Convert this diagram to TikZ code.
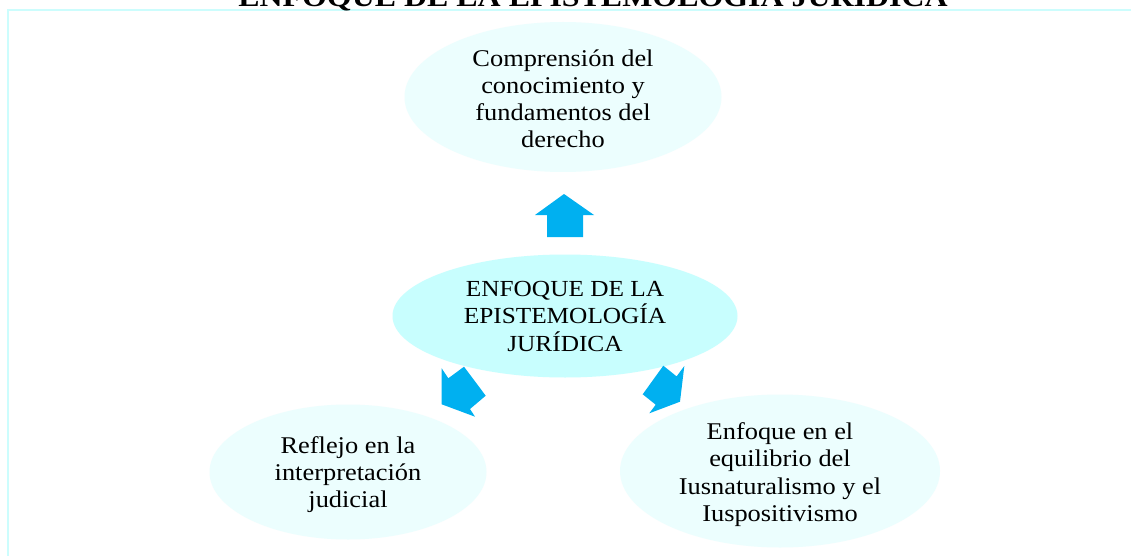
\documentclass[tikz,border=0pt]{standalone}
\usepackage{fontspec}
\setmainfont{Liberation Serif}
\usetikzlibrary{shapes.geometric}
\definecolor{bubcenter}{HTML}{C8FEFE}
\definecolor{bubouter}{HTML}{ECFEFE}
\definecolor{framecol}{HTML}{CCFDFD}
\definecolor{arrowcol}{HTML}{00B0F0}
\newcommand\wtext[1]{\scalebox{1.1}[1]{\begin{tabular}{@{}c@{}}#1\end{tabular}}}
\tikzset{
  bub/.style={ellipse, inner sep=0pt, fill=bubouter, draw=none},
  bubc/.style={bub, fill=bubcenter},
  txt/.style={inner sep=0pt, font=\fontsize{24}{27.3}\selectfont},
  txtc/.style={inner sep=0pt, font=\fontsize{23}{27}\selectfont},
  blockarrow/.style={fill=arrowcol, draw=none},
  framestyle/.style={draw=framecol, line width=2pt}
}
\begin{document}
\begin{tikzpicture}[x=1pt, y=-1pt]
\useasboundingbox (0,0) rectangle (1131,556);
\clip (0,0) rectangle (1131,556);
\fill[white] (0,0) rectangle (1131,556);
% frame
\coordinate (fa) at (8,556);
\coordinate (fb) at (8,10);
\coordinate (fc) at (1131,10);
\draw[framestyle] (fa) -- (fb) -- (fc);
% title (cut off at top)
\node[anchor=base, inner sep=0pt] (title) at (593,7)
  {\scalebox{1.14}[1]{\fontsize{28}{30}\selectfont\bfseries ENFOQUE DE LA EPISTEMOLOGÍA JURÍDICA}};
% ellipses
\node[bub, minimum width=317pt, minimum height=150pt] (top) at (563,97) {};
\node[bubc, minimum width=345pt, minimum height=123pt] (center) at (565,316) {};
\node[bub, minimum width=277pt, minimum height=135pt] (left) at (348,472) {};
\node[bub, minimum width=320pt, minimum height=153pt] (right) at (780,471) {};
% texts
\node[txt] (topt) at ([yshift=-4.5pt]top.center) {\wtext{Comprensión del\\conocimiento y\\fundamentos del\\derecho}};
\node[txtc] (centert) at ([yshift=-2.5pt]center.center) {\wtext{ENFOQUE DE LA\\EPISTEMOLOGÍA\\JURÍDICA}};
\node[txt] (leftt) at ([yshift=-3pt]left.center) {\wtext{Reflejo en la\\interpretación\\judicial}};
\node[txt] (rightt) at ([yshift=-4pt]right.center) {\wtext{Enfoque en el\\equilibrio del\\Iusnaturalismo y el\\Iuspositivismo}};
% block arrows
\fill[blockarrow] (564,194) -- (594,215) -- (583,215) -- (583,237) -- (547,237) -- (547,215) -- (535,215) -- cycle;
\fill[blockarrow] (441.7,404.3) -- (441.7,368.3) -- (448.3,378.3) -- (464,366.7) -- (485.7,395.7) -- (470,409) -- (475,416.7) -- cycle;
\fill[blockarrow] (680,401.7) -- (684.3,366) -- (676.6,376.4) -- (663.3,365.7) -- (642.7,394.3) -- (655.7,404.7) -- (649.3,413.3) -- cycle;
\end{tikzpicture}
\end{document}
